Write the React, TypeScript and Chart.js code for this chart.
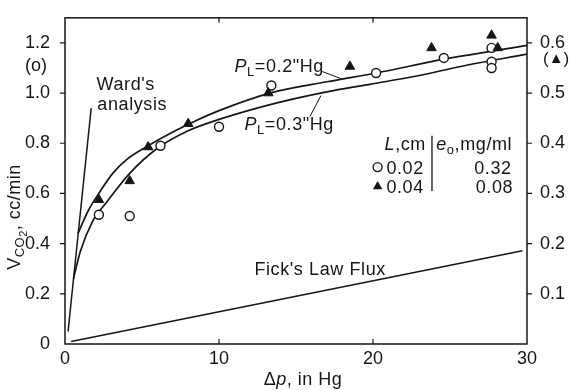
import React, { useEffect, useRef } from 'react';
import { Chart, registerables } from 'chart.js';

Chart.register(...registerables);

// Pressure difference (in Hg) vs CO2 transfer rate (cc/min)
const upperX = [0.84, 1.5, 2.3, 3.1, 4.0, 5.4, 7.0, 8.5, 10, 13.3, 17, 20.2, 24.6, 28, 30];
const upperY = [0.44, 0.53, 0.61, 0.68, 0.735, 0.79, 0.845, 0.89, 0.93, 1.0, 1.045, 1.08, 1.135, 1.17, 1.19];

const lowerX = [0.55, 1.0, 1.8, 2.7, 4.2, 6.0, 8.0, 10, 13.7, 17, 19.8, 23, 25.6, 30];
const lowerY = [0.26, 0.37, 0.49, 0.565, 0.68, 0.78, 0.85, 0.895, 0.96, 1.005, 1.035, 1.07, 1.105, 1.155];

const wardX = [0.2, 1.7];
const wardY = [0.05, 0.94];

const fickX = [0.4, 29.7];
const fickY = [0.01, 0.372];

// L = 0.02 cm, e0 = 0.32 mg/ml
const circleX = [2.2, 4.2, 6.2, 10.0, 13.4, 20.2, 24.6, 27.7, 27.7, 27.7];
const circleY = [0.515, 0.51, 0.79, 0.866, 1.03, 1.08, 1.14, 1.18, 1.125, 1.1];

// L = 0.04 cm, e0 = 0.08 mg/ml
const triX = [2.2, 4.2, 5.4, 8.0, 13.2, 18.5, 23.8, 27.7, 28.1];
const triY = [0.575, 0.65, 0.785, 0.878, 1.0, 1.106, 1.18, 1.23, 1.18];

const xTicks = [0, 10, 20, 30];
const xTickLabels = ['0', '10', '20', '30'];
const leftTicks = [0, 0.2, 0.4, 0.6, 0.8, 1.0, 1.2];
const leftTickLabels = ['0', '0.2', '0.4', '0.6', '0.8', '1.0', '1.2'];
const rightTicks = [0.1, 0.2, 0.3, 0.4, 0.5, 0.6];
const rightTickLabels = ['0.1', '0.2', '0.3', '0.4', '0.5', '0.6'];

const INK = '#161616';
const FAMILY = '"Liberation Sans", "DejaVu Sans", Arial, sans-serif';

type Seg = { t: string; italic?: boolean; size?: number; dy?: number };

function segFont(s: Seg, base: number) {
  return `${s.italic ? 'italic ' : ''}${s.size ?? base}px ${FAMILY}`;
}

function richWidth(ctx: CanvasRenderingContext2D, segs: Seg[], base: number) {
  let w = 0;
  for (const s of segs) {
    ctx.font = segFont(s, base);
    w += ctx.measureText(s.t).width;
  }
  return w;
}

function drawRich(
  ctx: CanvasRenderingContext2D,
  segs: Seg[],
  x: number,
  y: number,
  align: 'left' | 'right' | 'center',
  base = 18
) {
  const w = richWidth(ctx, segs, base);
  let cx = align === 'left' ? x : align === 'right' ? x - w : x - w / 2;
  ctx.textAlign = 'left';
  ctx.textBaseline = 'alphabetic';
  for (const s of segs) {
    ctx.font = segFont(s, base);
    ctx.fillText(s.t, cx, y + (s.dy ?? 0));
    cx += ctx.measureText(s.t).width;
  }
}

function triPath(ctx: CanvasRenderingContext2D, x: number, y: number, r: number) {
  ctx.beginPath();
  for (let i = 0; i < 3; i++) {
    const a = (i * 2 * Math.PI) / 3;
    const px = x + Math.sin(a) * r;
    const py = y - Math.cos(a) * r;
    if (i === 0) ctx.moveTo(px, py);
    else ctx.lineTo(px, py);
  }
  ctx.closePath();
}

const annotations = {
  id: 'annotations',
  afterDatasetsDraw(chart: any) {
    const { ctx, chartArea: a, scales } = chart;
    const px = (v: number) => scales.x.getPixelForValue(v);
    const py = (v: number) => scales.y.getPixelForValue(v);
    const py2 = (v: number) => scales.y2.getPixelForValue(v);

    ctx.save();
    ctx.strokeStyle = INK;
    ctx.fillStyle = INK;
    ctx.lineWidth = 1.5;
    ctx.lineCap = 'butt';

    // plot frame
    ctx.strokeRect(a.left, a.top, a.right - a.left, a.bottom - a.top);

    // tick marks
    ctx.lineWidth = 1.2;
    ctx.beginPath();
    for (const v of leftTicks) {
      if (v === 0) continue;
      ctx.moveTo(a.left - 5, py(v));
      ctx.lineTo(a.left, py(v));
    }
    for (const v of rightTicks) {
      ctx.moveTo(a.right, py2(v));
      ctx.lineTo(a.right + 5, py2(v));
    }
    for (const v of xTicks) {
      if (v === 0 || v === 30) continue;
      ctx.moveTo(px(v), a.bottom);
      ctx.lineTo(px(v), a.bottom - 5);
      ctx.moveTo(px(v), a.top);
      ctx.lineTo(px(v), a.top + 5);
    }
    ctx.stroke();

    // bottom axis numbers
    ctx.letterSpacing = '0px';
    xTicks.forEach((v, i) => {
      drawRich(ctx, [{ t: xTickLabels[i] }], px(v), a.bottom + 20, 'center');
    });

    ctx.letterSpacing = '0.6px';

    // curve labels and leaders
    drawRich(ctx, [{ t: "Ward's" }], px(2.05), py(1.035) + 6, 'left');
    drawRich(ctx, [{ t: 'analysis' }], px(2.1), py(0.957) + 6, 'left');

    drawRich(
      ctx,
      [{ t: 'P', italic: true }, { t: 'L', size: 13, dy: 4 }, { t: '=0.2"Hg' }],
      px(11.0),
      py(1.106) + 6,
      'left'
    );
    drawRich(
      ctx,
      [{ t: 'P', italic: true }, { t: 'L', size: 13, dy: 4 }, { t: '=0.3"Hg' }],
      px(11.65),
      py(0.878) + 6,
      'left'
    );
    drawRich(ctx, [{ t: "Fick's Law Flux" }], px(12.3), py(0.298) + 6, 'left');

    ctx.lineWidth = 1;
    ctx.beginPath();
    ctx.moveTo(px(16.7), py(1.086));
    ctx.lineTo(px(17.9), py(1.058));
    ctx.moveTo(px(16.62), py(0.99));
    ctx.lineTo(px(15.9), py(0.906));
    ctx.stroke();

    // legend block
    drawRich(ctx, [{ t: 'L', italic: true }, { t: ',cm' }], px(20.75), py(0.796) + 6, 'left');
    drawRich(
      ctx,
      [{ t: 'e', italic: true }, { t: 'o', size: 13, dy: 4 }, { t: ',mg/ml' }],
      px(24.1),
      py(0.796) + 6,
      'left'
    );
    ctx.lineWidth = 1.3;
    ctx.beginPath();
    ctx.moveTo(px(23.83), py(0.83));
    ctx.lineTo(px(23.83), py(0.61));
    ctx.stroke();

    drawRich(ctx, [{ t: '0.02' }], px(23.3), py(0.702) + 6, 'right');
    drawRich(ctx, [{ t: '0.32' }], px(29.0), py(0.702) + 6, 'right');
    drawRich(ctx, [{ t: '0.04' }], px(23.3), py(0.624) + 6, 'right');
    drawRich(ctx, [{ t: '0.08' }], px(29.1), py(0.624) + 6, 'right');

    ctx.lineWidth = 1.4;
    ctx.fillStyle = '#fff';
    ctx.beginPath();
    ctx.arc(px(20.3), py(0.705), 4.5, 0, Math.PI * 2);
    ctx.fill();
    ctx.stroke();
    ctx.fillStyle = INK;
    triPath(ctx, px(20.3), py(0.628), 5.5);
    ctx.fill();

    // series keys beside the axes
    ctx.letterSpacing = '0px';
    drawRich(ctx, [{ t: '(o)' }], 25, 71, 'left');
    drawRich(ctx, [{ t: '(' }, { t: '▲', size: 15, dy: -1 }, { t: ')' }], 543, 64, 'left', 17);

    // axis titles
    ctx.letterSpacing = '0.5px';
    drawRich(
      ctx,
      [{ t: 'Δ' }, { t: 'p', italic: true }, { t: ', in Hg' }],
      (a.left + a.right) / 2 + 7,
      385,
      'center'
    );

    ctx.translate(20, 217);
    ctx.rotate(-Math.PI / 2);
    drawRich(
      ctx,
      [
        { t: 'V' },
        { t: 'CO', size: 13, dy: 4 },
        { t: '2', size: 11, dy: 7 },
        { t: ', cc/min' },
      ],
      0,
      0,
      'center'
    );

    ctx.restore();
  },
};

const pts = (xs: number[], ys: number[]) => xs.map((x, i) => ({ x, y: ys[i] }));

const curve = (label: string, xs: number[], ys: number[]) => ({
  label,
  data: pts(xs, ys),
  showLine: true,
  borderColor: INK,
  borderWidth: 1.7,
  pointRadius: 0,
  fill: false,
  cubicInterpolationMode: 'monotone' as const,
  order: 2,
});

export default function App() {
  const canvasRef = useRef<HTMLCanvasElement | null>(null);

  useEffect(() => {
    document.body.style.margin = '0';
    const canvas = canvasRef.current;
    if (!canvas) return;

    const tickFont = { family: FAMILY, size: 18 };

    const chart = new Chart(canvas, {
      type: 'scatter',
      data: {
        datasets: [
          curve('PL = 0.2" Hg', upperX, upperY),
          curve('PL = 0.3" Hg', lowerX, lowerY),
          { ...curve("Ward's analysis", wardX, wardY), borderWidth: 1.5, cubicInterpolationMode: 'default' as const },
          { ...curve("Fick's Law Flux", fickX, fickY), borderWidth: 1.5, cubicInterpolationMode: 'default' as const },
          {
            label: 'L 0.02 cm',
            data: pts(circleX, circleY),
            showLine: false,
            pointStyle: 'circle',
            pointRadius: 4.5,
            pointBackgroundColor: '#ffffff',
            pointBorderColor: INK,
            pointBorderWidth: 1.4,
            order: 1,
          },
          {
            label: 'L 0.04 cm',
            data: pts(triX, triY),
            showLine: false,
            pointStyle: 'triangle',
            pointRadius: 5.5,
            pointBackgroundColor: INK,
            pointBorderColor: INK,
            pointBorderWidth: 1,
            order: 0,
          },
        ],
      },
      options: {
        responsive: false,
        animation: false,
        events: [],
        layout: { padding: { top: 12.5, left: 0, right: 0, bottom: 0 } },
        plugins: {
          legend: { display: false },
          tooltip: { enabled: false },
        },
        elements: { line: { tension: 0 } },
        scales: {
          x: {
            type: 'linear',
            min: 0,
            max: 30,
            grid: { display: false },
            border: { display: false },
            afterBuildTicks: (s: any) => {
              s.ticks = xTicks.map((v) => ({ value: v }));
            },
            afterFit: (s: any) => {
              s.height = 46;
            },
            // numbers are placed by the annotations plugin
            ticks: { display: false },
          },
          y: {
            type: 'linear',
            position: 'left',
            min: 0,
            max: 1.3,
            grid: { display: false },
            border: { display: false },
            afterBuildTicks: (s: any) => {
              s.ticks = leftTicks.map((v) => ({ value: v }));
            },
            afterFit: (s: any) => {
              s.width = 65;
            },
            ticks: {
              font: tickFont,
              color: INK,
              padding: 7,
              callback: (_v: any, i: number) => leftTickLabels[i],
            },
          },
          y2: {
            type: 'linear',
            position: 'right',
            min: 0,
            max: 0.65,
            grid: { display: false },
            border: { display: false },
            afterBuildTicks: (s: any) => {
              s.ticks = rightTicks.map((v) => ({ value: v }));
            },
            afterFit: (s: any) => {
              s.width = 42;
            },
            ticks: {
              font: tickFont,
              color: INK,
              padding: 5,
              callback: (_v: any, i: number) => rightTickLabels[i],
            },
          },
        },
      },
      plugins: [annotations],
    });

    return () => chart.destroy();
  }, []);

  return (
    <div style={{ position: 'fixed', left: 0, top: 0, width: 569, height: 390, background: '#fff' }}>
      <canvas ref={canvasRef} width={569} height={390} />
    </div>
  );
}
